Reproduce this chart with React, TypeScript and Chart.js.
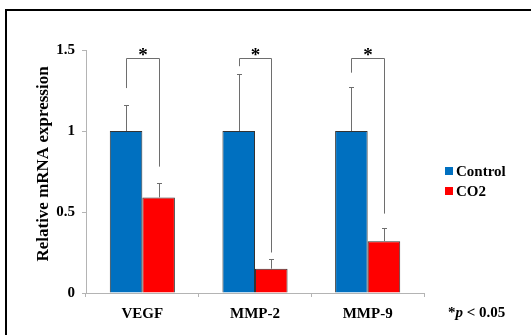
import React, { useEffect, useRef } from "react";
import { Chart, registerables } from "chart.js";

Chart.register(...registerables);

const categories = ["VEGF", "MMP-2", "MMP-9"];
const seriesLabels = ["Control", "CO2"];
const controlValues = [1, 1, 1];
const co2Values = [0.59, 0.15, 0.32];
const controlErrors = [0.16, 0.35, 0.27];
const co2Errors = [0.09, 0.06, 0.08];
const yTicks = [0, 0.5, 1, 1.5];
const bracketTop = [1.45, 1.45, 1.45];
const bracketLeftEnd = [1.265, 1.4, 1.36];
const bracketRightEnd = [0.78, 0.25, 0.49];
const significance = ["*", "*", "*"];
const yTitle = "Relative mRNA expression";
const footnoteParts = ["*", "p", " < 0.05"];

const BLUE = "#0070C0";
const RED = "#FF0000";
const FONT = "'Liberation Serif', 'Times New Roman', serif";
const AXIS = "#b4b4b4";
const LINE = "#6e6e6e";

const overlay = {
  id: "overlay",
  afterDatasetsDraw(chart: any) {
    const ctx = chart.ctx;
    const y = chart.scales.y;
    const m0 = chart.getDatasetMeta(0).data;
    const m1 = chart.getDatasetMeta(1).data;
    ctx.save();
    ctx.strokeStyle = LINE;
    ctx.lineWidth = 1;
    const errs = [
      { meta: m0, vals: controlValues, errs: controlErrors },
      { meta: m1, vals: co2Values, errs: co2Errors },
    ];
    errs.forEach(({ meta, vals, errs: e }) => {
      meta.forEach((bar: any, i: number) => {
        const x = Math.round(bar.x) + 0.5;
        const y0 = y.getPixelForValue(vals[i]);
        const y1 = Math.round(y.getPixelForValue(vals[i] + e[i])) + 0.5;
        ctx.beginPath();
        ctx.moveTo(x, y0);
        ctx.lineTo(x, y1);
        ctx.moveTo(x - 2.5, y1);
        ctx.lineTo(x + 2.5, y1);
        ctx.stroke();
      });
    });
    // brackets
    categories.forEach((_, i) => {
      const xl = Math.round(m0[i].x) + 0.5;
      const xr = Math.round(m1[i].x) + 0.5;
      const yt = Math.round(y.getPixelForValue(bracketTop[i])) + 0.5;
      const yl = y.getPixelForValue(bracketLeftEnd[i]);
      const yr = y.getPixelForValue(bracketRightEnd[i]);
      ctx.beginPath();
      ctx.moveTo(xl, yl);
      ctx.lineTo(xl, yt);
      ctx.lineTo(xr, yt);
      ctx.lineTo(xr, yr);
      ctx.stroke();
      ctx.fillStyle = "#000";
      ctx.font = `bold 19px ${FONT}`;
      ctx.textAlign = "center";
      ctx.textBaseline = "alphabetic";
      ctx.fillText(significance[i], (xl + xr) / 2, yt + 2);
    });
    ctx.restore();
  },
  afterDraw(chart: any) {
    const ctx = chart.ctx;
    ctx.save();
    // frame
    ctx.strokeStyle = "#000";
    ctx.lineWidth = 2;
    ctx.strokeRect(6, 10, 700, 500);
    // y title
    ctx.fillStyle = "#000";
    ctx.font = `bold 17px ${FONT}`;
    ctx.textAlign = "center";
    ctx.textBaseline = "middle";
    ctx.translate(44, 164);
    ctx.rotate(-Math.PI / 2);
    ctx.fillText(yTitle, 0, 0);
    ctx.setTransform(1, 0, 0, 1, 0, 0);
    // legend
    const colors = [BLUE, RED];
    ctx.font = `bold 15px ${FONT}`;
    ctx.textAlign = "left";
    seriesLabels.forEach((lab, i) => {
      const cy = 171 + i * 20;
      ctx.fillStyle = colors[i];
      ctx.fillRect(445, cy - 4, 8, 8);
      ctx.fillStyle = "#000";
      ctx.fillText(lab, 456, cy + 1);
    });
    // footnote
    let x = 448;
    const fy = 313;
    footnoteParts.forEach((p, i) => {
      ctx.font = i === 1 ? `italic bold 15px ${FONT}` : `bold 15px ${FONT}`;
      ctx.fillText(p, x, fy);
      x += ctx.measureText(p).width;
    });
    ctx.restore();
  },
};

export default function App() {
  const ref = useRef<HTMLCanvasElement>(null);
  useEffect(() => {
    if (!ref.current) return;
    const chart = new Chart(ref.current, {
      type: "bar",
      data: {
        labels: categories,
        datasets: [
          {
            label: seriesLabels[0],
            data: controlValues,
            backgroundColor: BLUE,
            borderColor: "#333",
            borderWidth: 1,
            categoryPercentage: 0.578,
            barPercentage: 1,
          },
          {
            label: seriesLabels[1],
            data: co2Values,
            backgroundColor: RED,
            borderColor: "#333",
            borderWidth: 1,
            categoryPercentage: 0.578,
            barPercentage: 1,
          },
        ],
      },
      options: {
        responsive: false,
        animation: false,
        layout: { padding: { left: 0, top: 50, right: 107, bottom: 0 } },
        plugins: { legend: { display: false }, tooltip: { enabled: false } },
        scales: {
          x: {
            afterFit: (s: any) => {
              s.height = 42;
            },
            grid: {
              drawOnChartArea: false,
              drawTicks: true,
              tickLength: 4,
              color: AXIS,
              offset: true,
            },
            border: { display: true, color: AXIS },
            ticks: {
              color: "#000",
              font: { family: FONT, size: 15, weight: "bold" },
              padding: 8,
            },
          },
          y: {
            min: 0,
            max: 1.5,
            afterFit: (s: any) => {
              s.width = 86;
            },
            afterBuildTicks: (s: any) => {
              s.ticks = yTicks.map((v) => ({ value: v }));
            },
            grid: {
              drawOnChartArea: false,
              drawTicks: true,
              tickLength: 4,
              color: AXIS,
            },
            border: { display: true, color: AXIS },
            ticks: {
              color: "#000",
              font: { family: FONT, size: 15, weight: "bold" },
              padding: 7,
              callback: (v: any) => String(v),
            },
          },
        },
      },
      plugins: [overlay],
    });
    return () => chart.destroy();
  }, []);
  return (
    <div style={{ position: "absolute", left: 0, top: 0, width: 531, height: 335, background: "#fff" }}>
      <canvas ref={ref} width={531} height={335} />
    </div>
  );
}
